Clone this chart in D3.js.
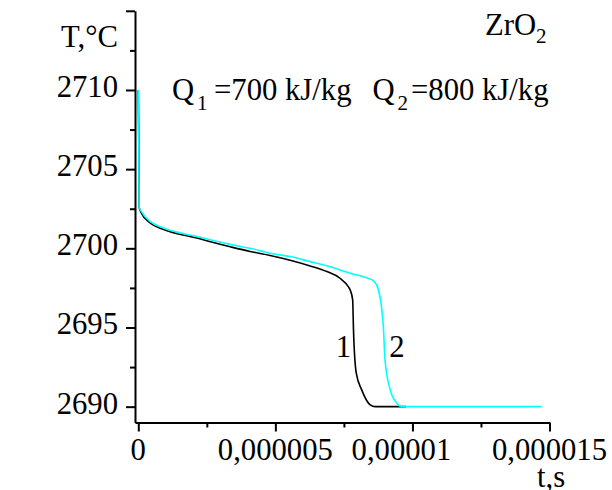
<!DOCTYPE html>
<html>
<head>
<meta charset="utf-8">
<script src="https://cdn.jsdelivr.net/npm/d3@7"></script>
<style>
  html, body { margin: 0; padding: 0; background: #fff; }
  svg { display: block; }
</style>
</head>
<body>
<svg id="chart" width="612" height="490"></svg>
<script>
// time in microseconds, temperature in °C
const time1 = [0, 0.02, 0.03, 0.12, 0.43, 0.9, 2.13, 3.35, 4.08, 4.81, 5.54, 6.27, 6.88, 7.36, 7.66, 7.73, 7.82, 7.85, 7.95, 8.15, 8.46, 8.64, 9.77];
const temp1 = [2710, 2706.2, 2702.6, 2702.2, 2701.6, 2701.2, 2700.65, 2700.1, 2699.8, 2699.55, 2699.25, 2698.89, 2698.53, 2698.11, 2697.58, 2697.37, 2696.74, 2694.85, 2692.13, 2691.06, 2690.11, 2690.0, 2690.0];
const time2 = [0, 0.02, 0.03, 0.12, 0.43, 0.9, 2.13, 3.35, 4.08, 4.81, 5.54, 6.27, 7.0, 7.73, 8.3, 8.58, 8.76, 8.94, 9.0, 9.19, 9.43, 9.61, 14.72];
const temp2 = [2710, 2706.2, 2702.6, 2702.3, 2701.7, 2701.3, 2700.75, 2700.25, 2700.0, 2699.69, 2699.48, 2699.16, 2698.84, 2698.43, 2698.15, 2697.95, 2697.37, 2695.06, 2692.95, 2691.06, 2690.22, 2690.0, 2690.0];
const xTickValues = [0, 5, 10, 15];
const xTickLabels = ["0", "0,000005", "0,00001", "0,000015"];
const yTickValues = [2690, 2695, 2700, 2705, 2710, 2715];
const yTickLabels = ["2690", "2695", "2700", "2705", "2710", ""];
const curveLabels = ["1", "2"];
const seriesColors = ["#000000", "#00FFFF"];

const cv = document.createElement("canvas").getContext("2d");
function w(f) { cv.font = "30px " + f; return cv.measureText("2710 WgQrl,iTC").width; }
w("monospace"); w('"Liberation Serif"'); w("serif");

const svg = d3.select("#chart");
const x = d3.scaleLinear().domain([-0.12, 15]).range([135, 549.5]);
const y = d3.scaleLinear().domain([2689, 2715]).range([422.5, 10.8]);

const FS = 30.7;
const SUB = 21;

// ---- texts first ----
function txt(xp, yp, str, size, anchor) {
  const t = svg.append("text").attr("x", xp).attr("y", yp)
    .attr("font-size", size || FS).attr("font-family", `"Liberation Serif"`);
  if (anchor) t.attr("text-anchor", anchor);
  return t.text(str);
}
const xLabelShift = [0, 0, -11, 0];
xTickValues.forEach((v, i) => txt(x(v) + xLabelShift[i], 460, xTickLabels[i], FS, "middle"));
yTickValues.forEach((v, i) => { if (yTickLabels[i]) txt(118, y(v) + 7, yTickLabels[i], FS, "end"); });

txt(118, 47, "T,°C", FS, "end");
txt(537, 487, "t,s");
txt(485, 35, "ZrO");
txt(536, 43, "2", SUB);
txt(172, 100, "Q");
txt(197, 110, "1", SUB);
txt(214, 100, "=700 kJ/kg");
txt(372.5, 100, "Q");
txt(397.5, 110, "2", SUB);
txt(411, 100, "=800 kJ/kg");
txt(x(7.2), 357, curveLabels[0]);
txt(x(9.15), 357, curveLabels[1]);

// ---- axes (ticks only) ----
const gx = svg.append("g").attr("transform", `translate(0,${y(2689)})`);
gx.call(d3.axisBottom(x).tickValues([2.5, 7.5, 12.5]).tickSize(5).tickFormat(""));
gx.call(g => g.select(".domain").remove());
svg.append("g").attr("transform", `translate(0,${y(2689)})`)
  .call(d3.axisBottom(x).tickValues(xTickValues).tickSize(9).tickFormat("").tickSizeOuter(0));

const gy = svg.append("g").attr("transform", `translate(${x(-0.12)},0)`);
gy.call(d3.axisLeft(y).tickValues([2692.5, 2697.5, 2702.5, 2707.5, 2712.5]).tickSize(5).tickFormat(""));
gy.call(g => g.select(".domain").remove());
svg.append("g").attr("transform", `translate(${x(-0.12)},0)`)
  .call(d3.axisLeft(y).tickValues(yTickValues).tickSize(9).tickFormat("").tickSizeOuter(0));

svg.selectAll("g").attr("font-family", null).attr("font-size", null).attr("text-anchor", null);
svg.selectAll(".tick text").remove();
svg.selectAll(".tick line").attr("stroke", "#000").attr("stroke-width", 2);
svg.selectAll(".domain").attr("stroke", "#000").attr("stroke-width", 2);

// ---- lines ----
const line = d3.line().x(d => x(d[0])).y(d => y(d[1])).curve(d3.curveMonotoneX);
const series = [d3.zip(time1, temp1), d3.zip(time2, temp2)];
series.forEach((s, i) => {
  svg.append("path").datum(s).attr("d", line)
    .attr("fill", "none").attr("stroke", seriesColors[i]).attr("stroke-width", 1.6);
});
</script>
</body>
</html>
